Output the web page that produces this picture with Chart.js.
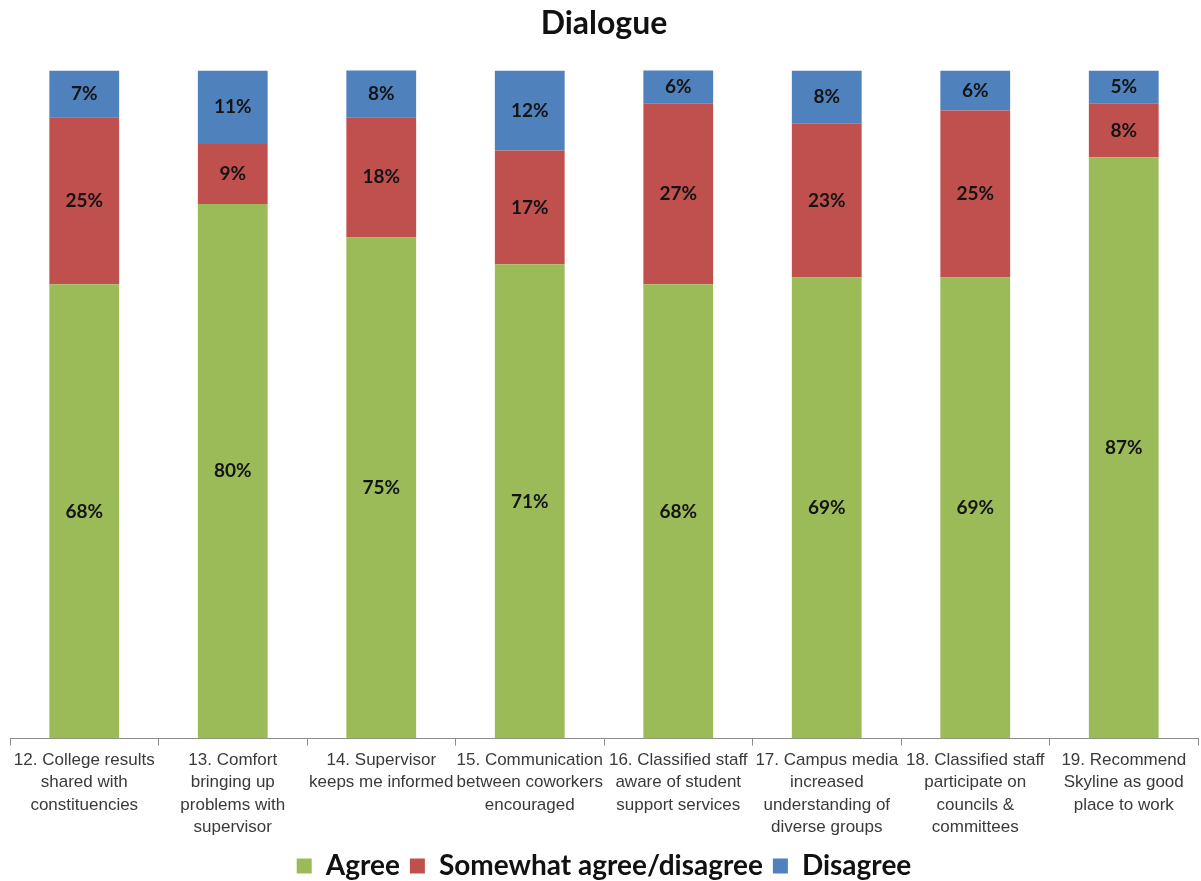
<!DOCTYPE html>
<html>
<head>
<meta charset="utf-8">
<title>Dialogue</title>
<script src="https://cdn.jsdelivr.net/npm/chart.js@4/dist/chart.umd.min.js"></script>
<style>
  html, body { margin: 0; padding: 0; background: #fff; }
  #wrap { width: 1201px; height: 881px; }
</style>
</head>
<body>
<div id="wrap"><canvas id="chart"></canvas></div>
<script>
/* survey items, one bar each (labels wrapped by hand) */
const questions = [
  ['12. College results', 'shared with', 'constituencies'],
  ['13. Comfort', 'bringing up', 'problems with', 'supervisor'],
  ['14. Supervisor', 'keeps me informed'],
  ['15. Communication', 'between coworkers', 'encouraged'],
  ['16. Classified staff', 'aware of student', 'support services'],
  ['17. Campus media', 'increased', 'understanding of', 'diverse groups'],
  ['18. Classified staff', 'participate on', 'councils &', 'committees'],
  ['19. Recommend', 'Skyline as good', 'place to work'],
];

/* percentages per answer */
const agree    = [68, 80, 75, 71, 68, 69, 69, 87];
const somewhat = [25,  9, 18, 17, 27, 23, 25,  8];
const disagree = [ 7, 11,  8, 12,  6,  8,  6,  5];

const GREEN = '#9bbb59';
const RED   = '#c0504d';
const BLUE  = '#4f81bd';

// percent text in the middle of every segment
const segmentLabels = {
  id: 'segmentLabels',
  afterDatasetsDraw(chart) {
    const ctx = chart.ctx;
    ctx.save();
    ctx.font = 'bold 19px Lato, "Open Sans", sans-serif';
    ctx.fillStyle = '#141414';
    ctx.textAlign = 'center';
    ctx.textBaseline = 'middle';
    chart.data.datasets.forEach((ds, i) => {
      const meta = chart.getDatasetMeta(i);
      meta.data.forEach((bar, j) => {
        const top = Math.max(bar.y, chart.chartArea.top);
        const mid = (top + bar.base) / 2;
        ctx.fillText(ds.data[j] + '%', bar.x, mid);
      });
    });
    ctx.restore();
  }
};

new Chart(document.getElementById('chart'), {
  type: 'bar',
  data: {
    labels: questions,
    datasets: [
      { label: 'Agree', data: agree, backgroundColor: GREEN },
      { label: 'Somewhat agree/disagree', data: somewhat, backgroundColor: RED },
      { label: 'Disagree', data: disagree, backgroundColor: BLUE },
    ]
  },
  options: {
    responsive: true,
    maintainAspectRatio: false,
    animation: false,
    layout: { padding: { left: 10, right: 3, top: 0, bottom: -9 } },
    datasets: {
      bar: { categoryPercentage: 1, barPercentage: 0.47, clip: 0 }
    },
    plugins: {
      title: {
        display: true,
        text: 'Dialogue',
        color: '#111',
        font: { family: 'Lato, "Open Sans", sans-serif', size: 32, weight: 'bold' },
        padding: { top: 4, bottom: 28 }
      },
      legend: {
        position: 'bottom',
        labels: {
          color: '#111',
          boxWidth: 15,
          boxHeight: 15,
          padding: 10,
          font: { family: 'Lato, "Open Sans", sans-serif', size: 28, weight: 'bold', lineHeight: 0.45 }
        }
      },
      tooltip: { enabled: false }
    },
    scales: {
      x: {
        stacked: true,
        border: { display: true, color: '#8c8c8c', width: 1 },
        grid: {
          drawOnChartArea: false,
          drawTicks: true,
          tickLength: 7,
          color: '#8c8c8c'
        },
        ticks: {
          color: '#3a3a3a',
          maxRotation: 0,
          autoSkip: false,
          padding: 4,
          font: { family: '"Liberation Sans", Arial, sans-serif', size: 17, lineHeight: 1.3 }
        }
      },
      y: {
        stacked: true,
        display: false,
        min: 0,
        max: 100
      }
    }
  },
  plugins: [segmentLabels]
});
</script>
</body>
</html>
